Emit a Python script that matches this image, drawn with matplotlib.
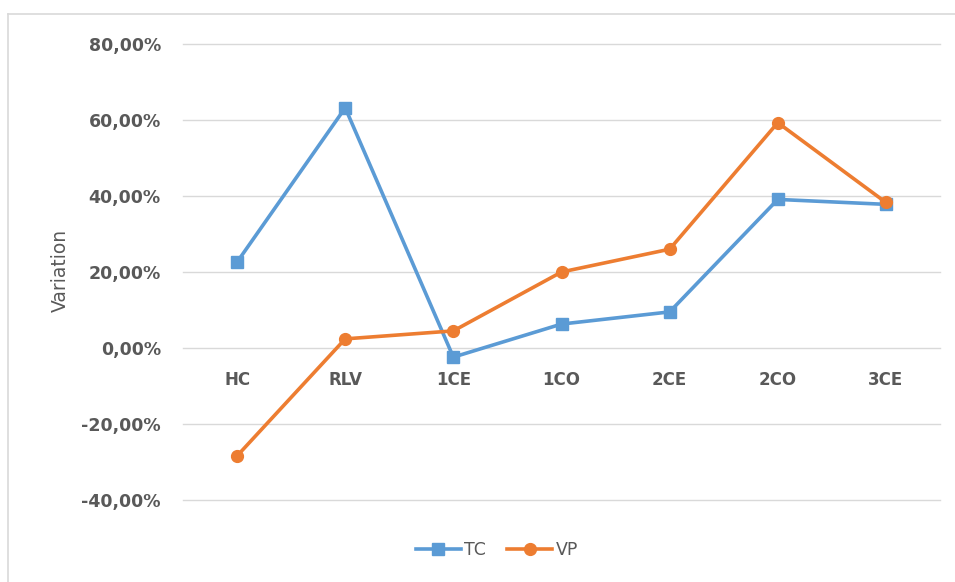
import matplotlib.pyplot as plt
from matplotlib.lines import Line2D
from matplotlib.ticker import FuncFormatter

# data (percent)
categories = ['HC', 'RLV', '1CE', '1CO', '2CE', '2CO', '3CE']
tc = [22.6, 63.2, -2.4, 6.3, 9.5, 39.1, 37.8]
vp = [-28.4, 2.4, 4.5, 20.0, 26.0, 59.3, 38.3]
yticks = [-40, -20, 0, 20, 40, 60, 80]

blue = '#5B9BD5'
orange = '#ED7D31'
grey = '#595959'

fig = plt.figure(figsize=(9.55, 5.82), dpi=100)
ax = fig.add_axes([183/955, 1 - 500/582, (940 - 183)/955, (500 - 44)/582])

x = range(len(categories))
ax.plot(x, tc, color=blue, lw=2.6, marker='s', ms=9, label='TC', zorder=3)
ax.plot(x, vp, color=orange, lw=2.6, marker='o', ms=8.5, label='VP', zorder=3)

ax.set_xlim(-0.5, len(categories) - 0.5)
ax.set_ylim(-40, 80)
ax.set_yticks(yticks)
ax.yaxis.set_major_formatter(FuncFormatter(lambda v, p: f'{v:.2f}%'.replace('.', ',')))
ax.grid(axis='y', color='#D9D9D9', lw=1)
for gl in ax.get_ygridlines():
    gl.set_clip_on(False)
ax.set_axisbelow(True)
ax.set_xticks([])
ax.tick_params(axis='y', length=0, pad=16, labelsize=12.5, labelcolor=grey)
for t in ax.get_yticklabels():
    t.set_fontweight('bold')
for s in ax.spines.values():
    s.set_visible(False)

# category labels sit just under the zero line, like Excel
for i, c in enumerate(categories):
    ax.text(i, -8.5, c, ha='center', va='center', fontsize=12,
            fontweight='bold', color=grey)

fig.text(60/955, 1 - 270/582, 'Variation', rotation=90, ha='center',
         va='center', fontsize=13.5, color=grey)

leg = fig.legend(loc='center', bbox_to_anchor=(497/955, 1 - 550/582), ncol=2,
                 frameon=False, fontsize=12.5, handlelength=2.6, columnspacing=1.2,
                 handletextpad=0.2)
for t in leg.get_texts():
    t.set_color(grey)

# chart-area border (top and left visible)
fig.add_artist(Line2D([8/955, 1], [1 - 14/582] * 2, color='#D9D9D9', lw=1.2))
fig.add_artist(Line2D([8/955] * 2, [0, 1 - 14/582], color='#D9D9D9', lw=1.2))

fig.savefig('out.png', dpi=100)
